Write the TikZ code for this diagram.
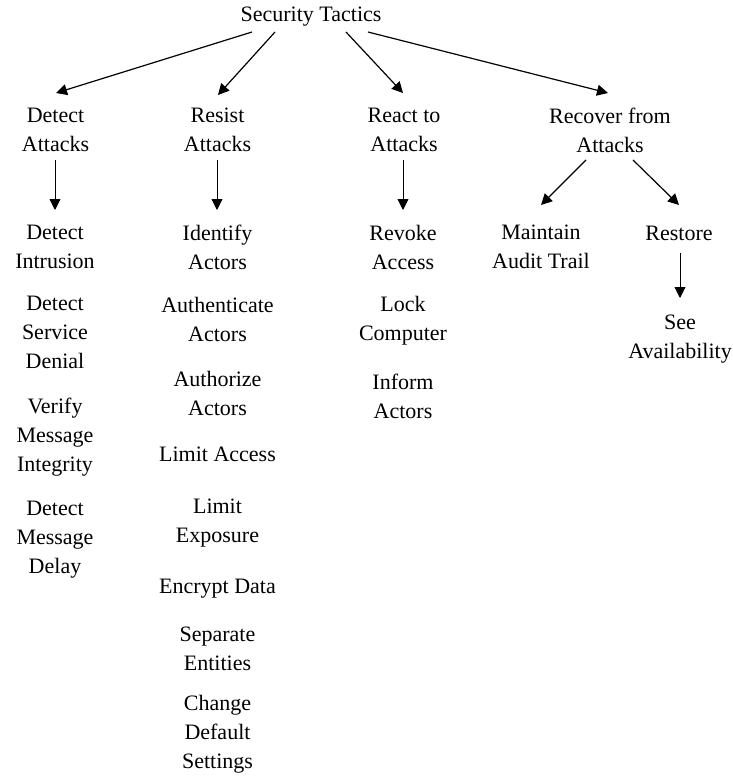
\documentclass[tikz,border=0pt]{standalone}
\usepackage{fontspec}
\setmainfont{Liberation Serif}
\usetikzlibrary{arrows.meta,calc}
\tikzset{
  lbl/.style={align=center,inner sep=0pt,font=\fontsize{22}{29}\selectfont},
  arr/.style={-{Triangle[length=11pt,width=11pt]},line width=1.2pt},
  varr/.style={-{Triangle[length=11pt,width=11pt]},line width=0.9pt},
}
\begin{document}
\begin{tikzpicture}[x=1pt,y=-1pt]
\useasboundingbox (0,0) rectangle (733,776);
\node[lbl] (st) at (311,17) {Security Tactics};
% level 1
\node[lbl] (da) at (55.5,130) {Detect\\Attacks};
\node[lbl] (ra) at (217.5,130) {Resist\\Attacks};
\node[lbl] (rta) at (404,130) {React to\\Attacks};
\node[lbl] (rfa) at (610,130) {Recover from\\Attacks};
% detect column
\node[lbl] (di) at (55,246.5) {Detect\\Intrusion};
\node[lbl] (dsd) at (55,332.5) {Detect\\Service\\Denial};
\node[lbl] (vmi) at (55,437.5) {Verify\\Message\\Integrity};
\node[lbl] (dmd) at (55,540) {Detect\\Message\\Delay};
% resist column
\node[lbl] (ia) at (217.5,247) {Identify\\Actors};
\node[lbl] (aa) at (217.5,319) {Authenticate\\Actors};
\node[lbl] (aua) at (217.5,393.5) {Authorize\\Actors};
\node[lbl] (la) at (217.5,454) {Limit Access};
\node[lbl] (le) at (217.5,523) {Limit\\Exposure};
\node[lbl] (ed) at (217.5,589) {Encrypt Data};
\node[lbl] (se) at (217.5,649) {Separate\\Entities};
\node[lbl] (cds) at (217.5,734.5) {Change\\Default\\Settings};
% react column
\node[lbl] (rva) at (403,247.5) {Revoke\\Access};
\node[lbl] (lc) at (403,320.5) {Lock\\Computer};
\node[lbl] (ifa) at (403,396.5) {Inform\\Actors};
% recover column
\node[lbl] (mat) at (541,246.5) {Maintain\\Audit Trail};
\node[lbl] (rs) at (679,233) {Restore};
\node[lbl] (sa) at (680,339.5) {See\\Availability};
% top arrows
\draw[arr] ($(st.center)+(-59,15)$) -- ($(da.center)+(0.5,-37)$);
\draw[arr] ($(st.center)+(-36,15)$) -- ($(ra.center)+(0.5,-35)$);
\draw[arr] ($(st.center)+(35,15)$) -- ($(rta.center)+(-1,-37)$);
\draw[arr] ($(st.center)+(57,15)$) -- ($(rfa.center)+(-2,-37)$);
% vertical arrows
\draw[varr] ($(da.center)+(-0.5,30)$) -- ($(di.center)+(0,-36.5)$);
\draw[varr] ($(ra.center)+(-0.5,30)$) -- ($(ia.center)+(-0.5,-37)$);
\draw[varr] ($(rta.center)+(-1,30)$) -- ($(rva.center)+(0,-37.5)$);
% recover arrows
\draw[arr] ($(rfa.center)+(-24,30)$) -- ($(mat.center)+(0,-41.5)$);
\draw[arr] ($(rfa.center)+(23,30)$) -- ($(rs.center)+(0,-28)$);
\draw[varr] ($(rs.center)+(1,20)$) -- ($(sa.center)+(0,-41.5)$);
\end{tikzpicture}
\end{document}
